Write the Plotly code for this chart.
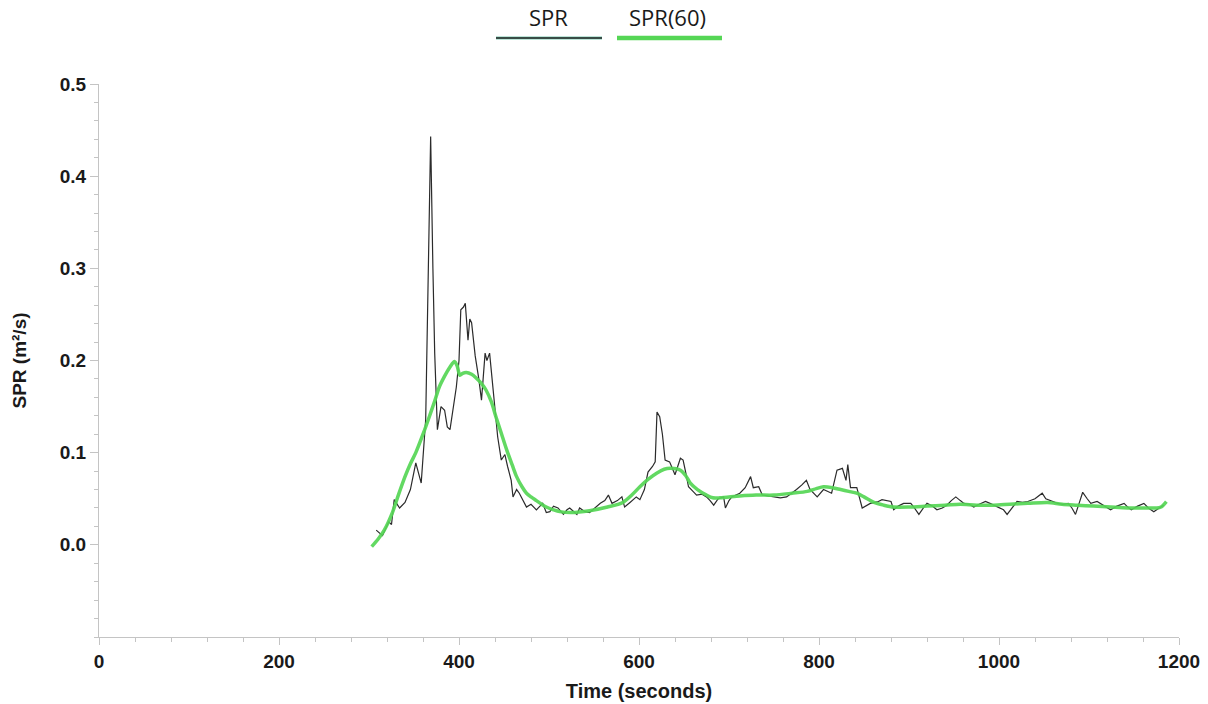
import plotly.graph_objects as go

# ---- data ----
spr_t = [308, 315, 322, 325, 328, 334, 340, 346, 352, 358, 363, 366, 368.5, 371, 373, 376, 380, 384, 387, 390,
         394, 397, 400, 402, 405, 407, 410, 412, 414, 418, 422, 425, 429, 431, 434, 438, 443, 447, 451, 454,
         458, 460, 464, 467, 471, 475, 480, 486, 490, 493, 497, 501, 505, 510, 516, 520, 523, 527, 531, 534,
         540, 545, 551, 557, 562, 566, 570, 576, 581, 584, 590, 597, 601, 606, 610, 615, 618, 620, 623, 626,
         629, 634, 637, 640, 646, 649, 652, 655, 660, 664, 670, 675, 679, 683, 688, 694, 696, 700, 703, 708,
         712, 718, 724, 727, 733, 737, 744, 750, 757, 764, 770, 775, 781, 786, 790, 798, 805, 810, 814, 820,
         826, 830, 832, 835, 842, 848, 852, 857, 862, 866, 870, 875, 880, 883, 888, 894, 902, 906, 911, 916,
         920, 926, 931, 937, 942, 947, 952, 957, 961, 967, 972, 978, 985, 990, 994, 1000, 1005, 1009, 1014, 1020,
         1026, 1032, 1040, 1048, 1052, 1055, 1060, 1065, 1071, 1077, 1081, 1085, 1089, 1093, 1098, 1102, 1109, 1116, 1124, 1131,
         1139, 1143, 1147, 1154, 1161, 1166, 1172, 1178, 1183]
spr_v = [0.016, 0.010, 0.025, 0.022, 0.049, 0.040, 0.046, 0.060, 0.089, 0.067, 0.136, 0.300, 0.443, 0.300, 0.208, 0.125, 0.150, 0.146, 0.128, 0.125,
         0.150, 0.171, 0.200, 0.255, 0.258, 0.262, 0.222, 0.245, 0.241, 0.205, 0.180, 0.157, 0.208, 0.200, 0.208, 0.168, 0.117, 0.092, 0.098, 0.085,
         0.070, 0.052, 0.060, 0.056, 0.048, 0.041, 0.044, 0.038, 0.042, 0.045, 0.035, 0.036, 0.042, 0.040, 0.033, 0.038, 0.040, 0.037, 0.033, 0.040,
         0.036, 0.035, 0.040, 0.045, 0.048, 0.054, 0.045, 0.048, 0.052, 0.041, 0.046, 0.052, 0.049, 0.060, 0.079, 0.085, 0.090, 0.144, 0.139, 0.120,
         0.092, 0.090, 0.083, 0.076, 0.094, 0.092, 0.078, 0.063, 0.058, 0.054, 0.055, 0.052, 0.048, 0.043, 0.050, 0.052, 0.040, 0.048, 0.052, 0.054,
         0.056, 0.062, 0.074, 0.062, 0.063, 0.054, 0.053, 0.052, 0.051, 0.052, 0.056, 0.060, 0.065, 0.070, 0.060, 0.052, 0.060, 0.058, 0.056, 0.081,
         0.083, 0.070, 0.087, 0.062, 0.062, 0.040, 0.042, 0.045, 0.046, 0.047, 0.049, 0.048, 0.047, 0.038, 0.042, 0.045, 0.045, 0.040, 0.033, 0.040,
         0.045, 0.042, 0.038, 0.040, 0.043, 0.048, 0.052, 0.048, 0.045, 0.044, 0.041, 0.044, 0.047, 0.045, 0.043, 0.040, 0.038, 0.033, 0.040, 0.047,
         0.046, 0.047, 0.050, 0.056, 0.050, 0.049, 0.047, 0.045, 0.044, 0.045, 0.040, 0.033, 0.045, 0.057, 0.050, 0.045, 0.047, 0.043, 0.038, 0.042,
         0.045, 0.041, 0.038, 0.042, 0.045, 0.040, 0.036, 0.040, 0.043]

spr60_t = [303, 310, 317, 326, 333, 340, 346, 352, 360, 367, 373, 378, 384, 390, 395, 398, 401, 404, 408, 414,
           419, 425, 430, 436, 441, 447, 453, 459, 464, 470, 475, 480, 486, 492, 497, 505, 512, 525, 545, 565,
           582, 592, 601, 610, 620, 628, 635, 646, 652, 657, 665, 675, 682, 690, 712, 730, 750, 770, 787, 797,
           805, 815, 824, 833, 842, 850, 861, 872, 883, 900, 920, 940, 957, 975, 994, 1012, 1032, 1054, 1070, 1087,
           1105, 1124, 1143, 1161, 1175, 1180, 1186]
spr60_v = [-0.002, 0.006, 0.016, 0.035, 0.055, 0.074, 0.088, 0.100, 0.120, 0.139, 0.156, 0.171, 0.183, 0.193, 0.199, 0.194, 0.184, 0.186, 0.187, 0.185,
           0.181, 0.175, 0.168, 0.155, 0.139, 0.121, 0.103, 0.087, 0.074, 0.063, 0.056, 0.052, 0.048, 0.044, 0.041, 0.038, 0.036, 0.035, 0.037, 0.041,
           0.046, 0.054, 0.063, 0.071, 0.078, 0.082, 0.083, 0.081, 0.075, 0.067, 0.060, 0.054, 0.051, 0.051, 0.053, 0.054, 0.054, 0.056, 0.058, 0.061,
           0.063, 0.062, 0.060, 0.058, 0.056, 0.052, 0.046, 0.043, 0.041, 0.041, 0.042, 0.043, 0.044, 0.043, 0.043, 0.044, 0.045, 0.046, 0.044, 0.043,
           0.042, 0.041, 0.040, 0.040, 0.040, 0.041, 0.047]

x_ticks = [0, 200, 400, 600, 800, 1000, 1200]
y_ticks = [0.0, 0.1, 0.2, 0.3, 0.4, 0.5]
y_tick_labels = ["0.0", "0.1", "0.2", "0.3", "0.4", "0.5"]

legend_names = ["SPR", "SPR(60)"]

SPR_COLOR = "#2b2b2b"
GREEN = "#55d655"
AXIS = "#c4c4c4"
TXT = "#1a1a1a"
FONT = "Liberation Sans, Arial, sans-serif"

fig = go.Figure()
fig.add_trace(go.Scatter(x=spr_t, y=spr_v, mode="lines", name=legend_names[0],
                         line=dict(color=SPR_COLOR, width=1.2), showlegend=False))
fig.add_trace(go.Scatter(x=spr60_t, y=spr60_v, mode="lines", name=legend_names[1],
                         line=dict(color=GREEN, width=3.5, shape="spline", smoothing=0.8),
                         opacity=0.92, showlegend=False))

# custom legend: text above a line sample
ty = 1 + (84 - 17) / 553
for name, cx in zip(legend_names, [548, 667]):
    fig.add_annotation(xref="paper", yref="paper", x=(cx - 99) / 1080, y=ty,
                       xanchor="center", yanchor="middle",
                       text=name, showarrow=False,
                       font=dict(family="Open Sans, Noto Sans, sans-serif", size=22, color=TXT))
ly = 1 + (84 - 38) / 553
fig.add_shape(type="line", xref="paper", yref="paper", x0=(496 - 99) / 1080, x1=(602 - 99) / 1080,
              y0=ly, y1=ly, line=dict(color="#7cc9b2", width=3))
fig.add_shape(type="line", xref="paper", yref="paper", x0=(496 - 99) / 1080, x1=(602 - 99) / 1080,
              y0=ly, y1=ly, line=dict(color="#222222", width=1.6))
fig.add_shape(type="line", xref="paper", yref="paper", x0=(617 - 99) / 1080, x1=(722 - 99) / 1080,
              y0=ly, y1=ly, line=dict(color=GREEN, width=4.5))

fig.update_xaxes(range=[0, 1200], tickvals=x_ticks, ticktext=[str(v) for v in x_ticks],
                 automargin=False,
                 showline=True, linecolor=AXIS, linewidth=1, showgrid=False, zeroline=False,
                 ticks="outside", ticklen=7, tickcolor=AXIS,
                 minor=dict(dtick=40, ticks="outside", ticklen=4, tickcolor=AXIS, showgrid=False),
                 tickfont=dict(family=FONT, size=19, color=TXT, weight="bold"),
                 title=dict(text="Time (seconds)", standoff=13,
                            font=dict(family=FONT, size=20, color=TXT, weight="bold")))
fig.update_yaxes(range=[-0.1, 0.5], tickvals=y_ticks, ticktext=y_tick_labels,
                 automargin=False,
                 showline=True, linecolor=AXIS, linewidth=1, showgrid=False, zeroline=False,
                 ticks="outside", ticklen=8, tickcolor=AXIS,
                 minor=dict(dtick=0.02, ticks="outside", ticklen=4, tickcolor=AXIS, showgrid=False),
                 tickfont=dict(family=FONT, size=19, color=TXT, weight="bold"),
                 title=dict(text="SPR (m²/s)", standoff=28,
                            font=dict(family=FONT, size=19, color=TXT, weight="bold")))

fig.update_layout(width=1208, height=704, plot_bgcolor="white", paper_bgcolor="white",
                  margin=dict(l=99, r=29, t=84, b=67), showlegend=False)

fig.write_html("out.html")
